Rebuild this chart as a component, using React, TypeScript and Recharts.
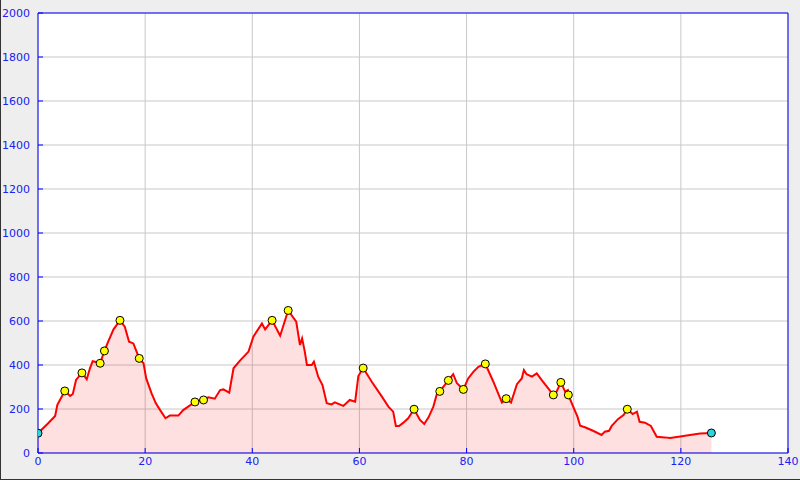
import React from 'react';
import {
  ComposedChart,
  Area,
  Scatter,
  XAxis,
  YAxis,
  CartesianGrid,
  ReferenceLine,
} from 'recharts';

// elevation profile, km along the route vs metres
const distanceKm = [
  0, 1.9, 3.2, 3.6, 4.1, 5.0, 6.0, 6.5, 7.1, 8.2, 9.1, 9.7, 10.2, 10.8, 11.6, 12.4, 13.1, 14.1, 15.3, 16.2,
  17.0, 17.8, 18.9, 19.7, 20.2, 21.2, 22.0, 22.8, 23.8, 24.6, 26.2, 27.1, 29.3, 30.9, 31.8, 33.0, 34.0, 34.6,
  35.7, 36.5, 37.7, 39.3, 40.2, 41.8, 42.4, 43.7, 45.2, 46.7, 48.2, 48.9, 49.3, 49.8, 50.2, 51.1, 51.5, 52.3,
  53.1, 53.9, 54.8, 55.4, 57.0, 58.2, 59.2, 59.8, 60.7, 62.3, 64.2, 65.4, 66.3, 66.8, 67.4, 68.2, 69.1, 70.2,
  71.3, 72.1, 72.9, 73.8, 74.4, 75.0, 76.6, 77.5, 78.2, 79.4, 80.3, 81.3, 82.2, 83.5, 85.0, 86.6, 87.4, 88.3,
  89.4, 90.3, 90.7, 91.2, 92.2, 93.1, 94.0, 96.2, 96.8, 97.6, 98.4, 98.9, 99.0, 99.9, 100.7, 101.2, 102.1,
  103.7, 105.2, 105.8, 106.6, 107.1, 108.3, 109.3, 110.0, 111.0, 111.8, 112.3, 113.3, 114.4, 115.5, 117.0,
  118.0, 120.2, 121.7, 123.6, 125.7,
];
const elevationM = [
  90, 135, 168, 218, 241, 282, 259, 268, 332, 364, 335, 385, 417, 414, 408, 464, 506, 562, 603, 574,
  506, 498, 430, 408, 339, 271, 226, 195, 158, 170, 170, 195, 232, 241, 253, 247, 286, 289,
  274, 385, 420, 461, 529, 589, 562, 603, 533, 648, 597, 491, 521, 461, 400, 400, 415, 347,
  309, 226, 221, 230, 214, 241, 233, 350, 386, 324, 256, 211, 188, 123, 123, 138, 158, 199,
  150, 132, 162, 211, 264, 280, 330, 358, 317, 289, 339, 370, 392, 405, 324, 229, 247, 229,
  313, 339, 377, 358, 347, 362, 332, 264, 279, 321, 279, 286, 264, 211, 165, 124, 117,
  100, 82, 97, 101, 123, 155, 173, 199, 177, 188, 142, 138, 123, 74, 71,
  68, 76, 82, 89, 91,
];

// waypoints (yellow) and start / finish (cyan)
const waypointKm = [5.0, 8.2, 11.6, 12.4, 15.3, 18.9, 29.3, 30.9, 43.7, 46.7, 60.7, 70.2, 75.0, 76.6, 79.4, 83.5, 87.4, 96.2, 97.6, 99.0, 110.0];
const waypointElev = [282, 364, 408, 464, 603, 430, 232, 241, 603, 648, 386, 199, 280, 330, 289, 405, 247, 264, 321, 264, 199];
const endpointKm = [0, 125.7];
const endpointElev = [90, 91];

const xTicks = [0, 20, 40, 60, 80, 100, 120, 140];
const yTicks = [0, 200, 400, 600, 800, 1000, 1200, 1400, 1600, 1800, 2000];

const profile = distanceKm.map((km, i) => ({ km, elev: elevationM[i] }));
const waypoints = waypointKm.map((km, i) => ({ km, elev: waypointElev[i] }));
const endpoints = endpointKm.map((km, i) => ({ km, elev: endpointElev[i] }));

const tickStyle = { fontFamily: 'DejaVu Sans', fontSize: 11, fill: '#2020f0' };

const marker = (fill: string) => (props: any) => (
  <circle cx={props.cx} cy={props.cy} r={4} fill={fill} stroke="#000" strokeWidth={1} />
);

export default function App() {
  return (
    <div
      style={{
        position: 'absolute',
        left: 0,
        top: 0,
        width: 800,
        height: 480,
        background: '#eeeeee',
        borderLeft: '1px solid #333',
        borderBottom: '1px solid #333',
        boxSizing: 'border-box',
      }}
    >
      <div style={{ position: 'absolute', left: -1, top: 0 }}>
        <ComposedChart width={800} height={480} data={profile} margin={{ top: 13, right: 12, bottom: 0, left: 0 }}>
          <CartesianGrid stroke="#c8c8c8" fill="#ffffff" horizontalValues={yTicks} verticalValues={xTicks} />
          <XAxis
            type="number"
            dataKey="km"
            domain={[0, 140]}
            ticks={xTicks}
            interval={0}
            height={27}
            allowDataOverflow
            axisLine={{ stroke: '#0000ff', strokeWidth: 1 }}
            tickLine={{ stroke: '#0000ff' }}
            tickSize={-5}
            tickMargin={9}
            tick={tickStyle}
          />
          <YAxis
            type="number"
            dataKey="elev"
            domain={[0, 2000]}
            ticks={yTicks}
            interval={0}
            width={38}
            allowDataOverflow
            axisLine={{ stroke: '#0000ff', strokeWidth: 1 }}
            tickLine={{ stroke: '#0000ff' }}
            tickSize={-5}
            tickMargin={13}
            tick={tickStyle}
          />
          <ReferenceLine y={2000} stroke="#0000ff" strokeWidth={1} />
          <ReferenceLine x={140} stroke="#0000ff" strokeWidth={1} />
          <Area
            type="linear"
            dataKey="elev"
            stroke="#ff0000"
            strokeWidth={2}
            fill="#ff0000"
            fillOpacity={0.12}
            dot={false}
            activeDot={false}
            isAnimationActive={false}
          />
          <Scatter data={waypoints} dataKey="elev" shape={marker('#ffff00')} isAnimationActive={false} />
          <Scatter data={endpoints} dataKey="elev" shape={marker('#2ad4e0')} isAnimationActive={false} />
        </ComposedChart>
      </div>
    </div>
  );
}
